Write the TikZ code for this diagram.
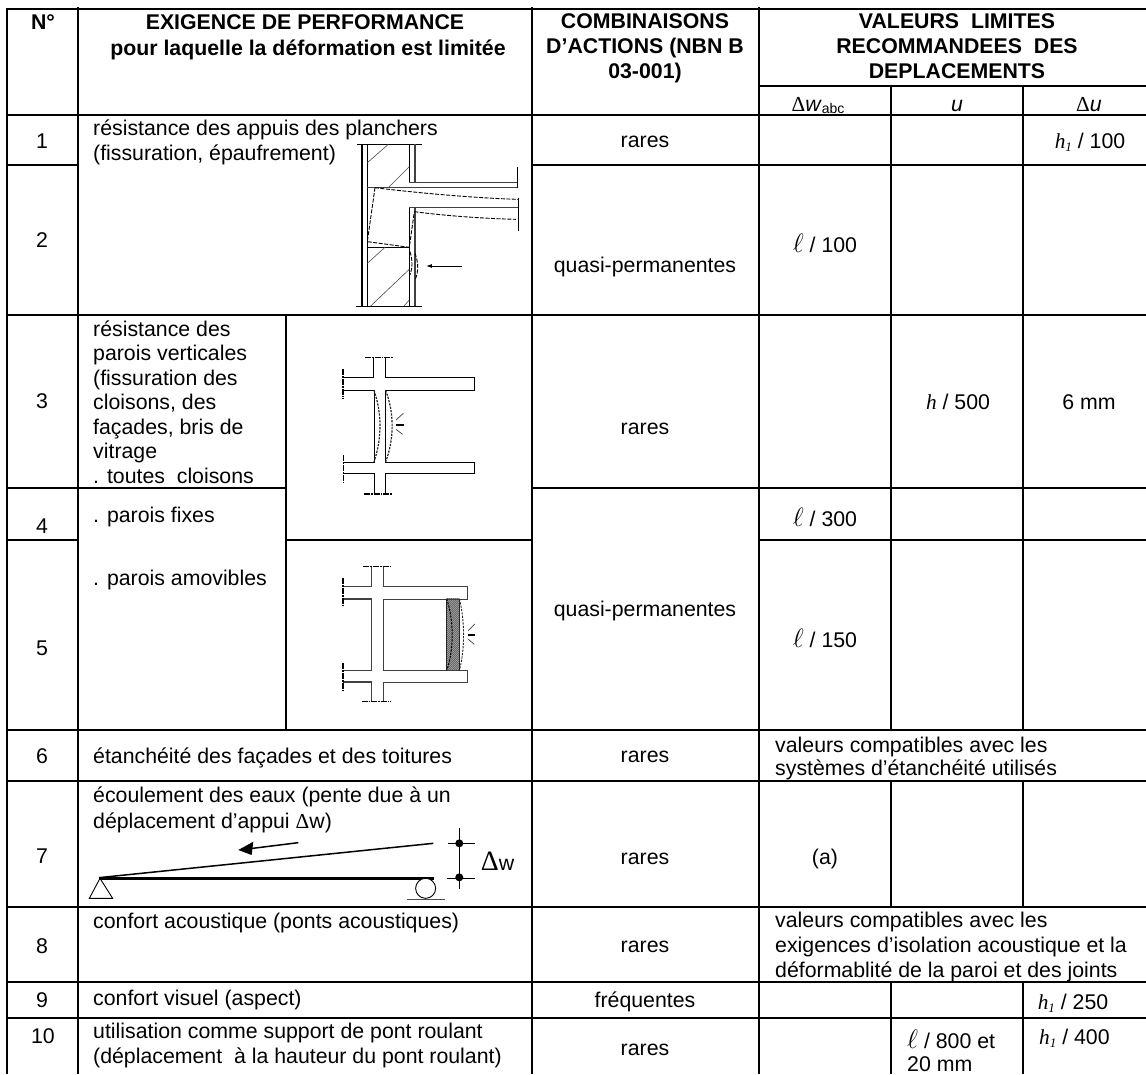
\documentclass[tikz,border=0pt]{standalone}
\usepackage{fontspec}
\setmainfont{Liberation Sans}
\newfontfamily\serifd{Liberation Serif}
\usetikzlibrary{arrows.meta}
\newcommand\dlt{{\serifd Δ}}
\newcommand\hh{{\serifd\itshape h}}
\newcommand\hone{{\serifd\itshape h\raisebox{-3pt}{\fontsize{13}{13}\selectfont 1}}}
\newcommand\lel{\scalebox{1.28}{\ensuremath{\ell}}}
\newcommand\tsz{\fontsize{21.3}{24.4}\selectfont}
\tikzset{
  tl/.style={black,line width=1.5pt},
  lt/.style={inner sep=0pt,anchor=base west,font=\tsz},
  ct/.style={inner sep=0pt,anchor=base,font=\tsz},
  bt/.style={inner sep=0pt,anchor=base,font=\tsz\bfseries},
  dr/.style={black!75,line width=0.9pt},
  drk/.style={black,line width=0.9pt},
  dd/.style={black,line width=1.3pt,dash pattern=on 6pt off 1pt on 1.6pt off 1pt},
  dsh/.style={black,line width=0.9pt,dash pattern=on 4pt off 1.5pt},
  dsm/.style={black!85,line width=1.2pt,dash pattern=on 2.2pt off 1.2pt},
  hat/.style={black!70,line width=0.6pt},
}
\begin{document}
\begin{tikzpicture}[x=1pt,y=-1pt]
\useasboundingbox (0,0) rectangle (1146,1074);
\fill[white] (0,0) rectangle (1146,1074);
\clip (0,0) rectangle (1146,1074);
% ---------- table grid
\draw[tl,line width=1.9pt] (6,9) -- (1146,9);
\draw[tl] (7,9) -- (7,1074);
\draw[tl] (78,7) -- (78,1074);
\draw[tl] (532,7) -- (532,1074);
\draw[tl] (759,7) -- (759,1074);
\draw[tl] (891,86) -- (891,730) (891,781) -- (891,907) (891,982) -- (891,1074);
\draw[tl] (1023,86) -- (1023,730) (1023,781) -- (1023,907) (1023,982) -- (1023,1074);
\draw[tl] (286,315) -- (286,730);
\draw[tl] (759,86) -- (1146,86);
\draw[tl] (7,115) -- (1146,115);
\draw[tl] (7,165) -- (78,165) (532,165) -- (1146,165);
\draw[tl] (7,315) -- (1146,315);
\draw[tl] (7,488) -- (286,488) (532,488) -- (1146,488);
\draw[tl] (7,540) -- (78,540) (286,540) -- (532,540) (759,540) -- (1146,540);
\draw[tl] (7,730) -- (1146,730);
\draw[tl] (7,781) -- (1146,781);
\draw[tl] (7,907) -- (1146,907);
\draw[tl] (7,982) -- (1146,982);
\draw[tl] (7,1018) -- (1146,1018);
% ---------- header
\node[bt] (hN) at (43,29) {N°};
\node[bt] (hE1) at (305,29) {EXIGENCE DE PERFORMANCE};
\node[bt] (hE2) at (308,55) {pour laquelle la déformation est limitée};
\node[bt] (hC1) at (645,28) {COMBINAISONS};
\node[bt] (hC2) at (645,53) {D’ACTIONS (NBN B};
\node[bt] (hC3) at (645,78) {03-001)};
\node[bt] (hV1) at (957,28) {VALEURS~ LIMITES};
\node[bt] (hV2) at (957,53) {RECOMMANDEES~ DES};
\node[bt] (hV3) at (957,78) {DEPLACEMENTS};
\node[ct] (hW) at (818,111) {\dlt\textit{w}\raisebox{-2.5pt}{\fontsize{14}{14}\selectfont abc}};
\node[ct] (hU) at (957,111) {\textit{u}};
\node[ct] (hDU) at (1089,111) {\dlt\textit{u}};
% ---------- row numbers
\node[ct] (n1) at (42,148) {1};
\node[ct] (n2) at (42,247) {2};
\node[ct] (n3) at (42,408) {3};
\node[ct] (n4) at (42,533) {4};
\node[ct] (n5) at (42,655) {5};
\node[ct] (n6) at (42,763) {6};
\node[ct] (n7) at (42,863) {7};
\node[ct] (n8) at (42,953) {8};
\node[ct] (n9) at (42,1007) {9};
\node[ct] (n10) at (43,1043) {10};
% ---------- requirement column
\node[lt] (t1a) at (93,135) {résistance des appuis des planchers};
\node[lt] (t1b) at (93,160) {(fissuration, épaufrement)};
\node[lt] (t3a) at (93,336) {résistance des};
\node[lt] (t3b) at (93,360) {parois verticales};
\node[lt] (t3c) at (93,385) {(fissuration des};
\node[lt] (t3d) at (93,409) {cloisons, des};
\node[lt] (t3e) at (93,434) {façades, bris de};
\node[lt] (t3f) at (93,458) {vitrage};
\node[lt] (t3g) at (93,483) {. toutes~ cloisons};
\node[lt] (t4) at (93,522) {. parois fixes};
\node[lt] (t5) at (93,585) {. parois amovibles};
\node[lt] (t6) at (93,763) {étanchéité des façades et des toitures};
\node[lt] (t7a) at (93,802) {écoulement des eaux (pente due à un};
\node[lt] (t7b) at (93,828) {déplacement d’appui \dlt w)};
\node[lt] (t8) at (93,928) {confort acoustique (ponts acoustiques)};
\node[lt] (t9) at (93,1005) {confort visuel (aspect)};
\node[lt] (t10a) at (93,1038) {utilisation comme support de pont roulant};
\node[lt] (t10b) at (93,1063) {(déplacement~ à la hauteur du pont roulant)};
% ---------- combinations column
\node[ct] (c1) at (645,147) {rares};
\node[ct] (c2) at (645,272) {quasi-permanentes};
\node[ct] (c3) at (645,434) {rares};
\node[ct] (c5) at (645,616) {quasi-permanentes};
\node[ct] (c6) at (645,762) {rares};
\node[ct] (c7) at (645,864) {rares};
\node[ct] (c8) at (645,952) {rares};
\node[ct] (c9) at (645,1007) {fréquentes};
\node[ct] (c10) at (645,1055) {rares};
% ---------- values
\node[ct] (v1) at (1090,148) {\hone{} / 100};
\node[ct] (v2) at (825,252) {\lel{} / 100};
\node[ct] (v3a) at (958,409) {\hh{} / 500};
\node[ct] (v3b) at (1089,409) {6 mm};
\node[ct] (v4) at (825,526) {\lel{} / 300};
\node[ct] (v5) at (825,647) {\lel{} / 150};
\node[lt] (v6a) at (775,752) {valeurs compatibles avec les};
\node[lt] (v6b) at (775,775) {systèmes d’étanchéité utilisés};
\node[ct] (v7) at (825,864) {(a)};
\node[lt] (v8a) at (775,927) {valeurs compatibles avec les};
\node[lt] (v8b) at (775,952) {exigences d’isolation acoustique et la};
\node[lt] (v8c) at (775,977) {déformablité de la paroi et des joints};
\node[ct] (v9) at (1073,1009) {\hone{} / 250};
\node[lt] (v10a) at (907,1048) {\lel{} / 800 et};
\node[lt] (v10b) at (907,1071) {20 mm};
\node[lt] (v10c) at (1039,1044) {\hone{} / 400};
% ---------- drawing 1 (floor support)
\begin{scope}[shift={(280,140)},x=0.3333pt,y=-0.3333pt]
\draw[black,line width=2.2pt] (245,13) -- (245,498);
\draw[drk] (262,13) -- (262,498);
\draw[drk] (232,13) -- (425,13) (228,498) -- (425,498);
\draw[drk] (388,13) -- (388,127) (388,203) -- (388,498);
\draw[dr,line width=1.2pt] (405,13) -- (405,127) (405,203) -- (405,498);
\draw[dr,line width=1.2pt] (388,127) -- (712,127);
\draw[dr] (262,143) -- (712,143);
\draw[dr,line width=1.3pt] (388,203) -- (715,203);
\draw[drk] (262,322) -- (388,322);
\draw[drk] (712,82) -- (712,143) (715,175) -- (715,272);
\draw[hat] (262,68) -- (325,13) (325,143) -- (388,80) (262,370) -- (315,322) (272,498) -- (388,388) (372,498) -- (388,480);
\draw[dsh] (285,143) .. controls (420,160) and (600,175) .. (715,178);
\draw[dsh] (285,143) -- (262,305) -- (388,322) -- (403,215);
\draw[dsh] (403,215) .. controls (500,228) and (620,236) .. (708,238);
\draw[dsh] (390,335) .. controls (398,360) and (398,385) .. (390,405);
\draw[dsh] (405,340) .. controls (416,370) and (416,395) .. (405,420);
\draw[black,line width=0.9pt,-{Latex[length=6pt,width=4pt]}] (545,378) -- (438,378);
\end{scope}
% ---------- drawing 2 (partition)
\begin{scope}[shift={(280,330)},x=0.3333pt,y=-0.3333pt]
\draw[drk] (190,143) -- (280,143) -- (280,83) (317,83) -- (317,143) -- (582,143) -- (582,181) -- (317,181) -- (317,396) -- (582,396) -- (582,430) -- (317,430) -- (317,492);
\draw[drk] (190,181) -- (282,181) -- (282,396) -- (192,396) (192,430) -- (282,430) -- (282,492);
\draw[dd] (255,83) -- (340,83) (189,118) -- (189,205) (252,492) -- (338,492) (191,376) -- (191,462);
\draw[dsm] (282,181) .. controls (306,250) and (306,325) .. (282,396);
\draw[dsm] (317,181) .. controls (343,250) and (343,325) .. (317,396);
\draw[black!75,line width=0.7pt] (348,270) -- (370,250) (348,298) -- (368,313);
\draw[black,line width=1.3pt] (348,285) -- (372,285);
\end{scope}
% ---------- drawing 3 (movable partition)
\begin{scope}[shift={(280,500)},x=0.3333pt,y=-0.3333pt]
\begin{scope}
\clip (500,297) rectangle (538,512);
\foreach \k in {0,6,...,260} {
  \draw[black!80,line width=0.7pt] (500,297+\k) -- (538,297+\k-38);
}
\end{scope}
\draw[black!85,line width=1pt] (500,297) -- (500,512) (538,297) -- (538,512);
\draw[dr] (190,260) -- (275,260) -- (275,200) (310,200) -- (310,260) -- (563,260) -- (563,297) -- (310,297) -- (310,512) -- (563,512) -- (563,546) -- (310,546) -- (310,605);
\draw[dr,line width=1.1pt] (190,297) -- (275,297) -- (275,512) -- (190,512) (190,546) -- (275,546) -- (275,605);
\draw[dd] (250,200) -- (332,200) (189,235) -- (189,320) (245,605) -- (332,605) (189,490) -- (189,575);
\draw[dsm,line width=.9pt] (538,297) .. controls (555,360) and (555,450) .. (538,512);
\draw[dsm,line width=1pt,black] (500,297) .. controls (522,360) and (522,450) .. (500,512);
\draw[black!75,line width=0.7pt] (565,392) -- (585,372) (565,418) -- (583,433);
\draw[black,line width=1.3pt] (565,405) -- (585,405);
\end{scope}
% ---------- drawing 7 (slope)
\begin{scope}[shift={(60,800)},x=0.3333pt,y=-0.3333pt]
\draw[black,line width=2.7pt] (117,235) -- (1122,235);
\draw[black,line width=1.5pt] (117,233) -- (1120,130);
\draw[drk] (120,235) -- (88,295) -- (158,295) -- cycle;
\draw[drk,fill=white] (1097,265) circle (30);
\draw[black!70,line width=1.1pt] (1040,298) -- (1155,298);
\draw[black,line width=1.5pt] (715,128) -- (570,146);
\fill[black] (535,150) -- (580,125) -- (575,165) -- cycle;
\draw[drk] (1198,85) -- (1198,268) (1165,130) -- (1245,130) (1160,235) -- (1245,235);
\fill[black] (1198,130) circle (12) (1198,232) circle (12);
\node[lt] (dw) at (1262,210) {{\fontsize{28}{28}\selectfont\serifd Δ}w};
\end{scope}
\end{tikzpicture}
\end{document}
